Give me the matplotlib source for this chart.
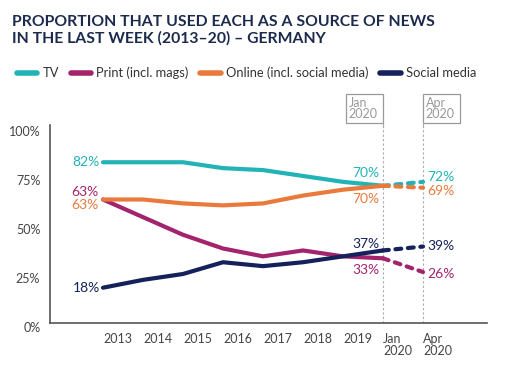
import matplotlib
matplotlib.use("Agg")
from matplotlib import pyplot as plt
from matplotlib.patches import Rectangle
from matplotlib.transforms import ScaledTranslation

plt.rcParams['font.family'] = ['Lato', 'DejaVu Sans']

# Data
periods = ["2013", "2014", "2015", "2016", "2017", "2018", "2019", "Jan\n2020", "Apr\n2020"]
tv = [82, 82, 82, 79, 78, 75, 72, 70, 72]
print_ = [63, 54, 45, 38, 34, 37, 34, 33, 26]
online = [63, 63, 61, 60, 61, 65, 68, 70, 69]
social = [18, 22, 25, 31, 29, 31, 34, 37, 39]

series_names = ["TV", "Print (incl. mags)", "Online (incl. social media)", "Social media"]
colors = ["#21b3b6", "#a3246c", "#e97a3c", "#14215a"]
series = [tv, print_, online, social]

fig = plt.figure(figsize=(5.07, 3.66), dpi=100)
W, H = 507, 366

def fx(px):
    return px / W

def fy(py):
    return 1 - py / H

# axes: left=50px, right=487px, top=125px, bottom=323px
ax = fig.add_axes([fx(50), fy(323), fx(487 - 50), (323 - 125) / H])
ax.set_xlim(-1.325, 9.6)
ax.set_ylim(0, 101)

x = list(range(len(periods)))
solid_n = 8  # up to Jan 2020
for vals, c in zip(series, colors):
    ax.plot(x[:solid_n], vals[:solid_n], color=c, lw=3, solid_capstyle='round',
            solid_joinstyle='round', zorder=3)
    ax.plot(x[solid_n - 1:], vals[solid_n - 1:], color=c, lw=3, ls=(0, (1.4, 1.6)),
            dash_capstyle='round', zorder=3)

# spines
for s in ['top', 'right']:
    ax.spines[s].set_visible(False)
ax.spines['left'].set_color('#555555')
ax.spines['bottom'].set_color('#555555')
ax.spines['left'].set_linewidth(1.2)
ax.spines['bottom'].set_linewidth(1.2)

ax.set_yticks([0, 25, 50, 75, 100])
ax.set_yticklabels(["0%", "25%", "50%", "75%", "100%"])
ax.tick_params(axis='y', length=0, pad=7, labelsize=9, labelcolor='#444444')
shift = ScaledTranslation(0, -3 / 72, fig.dpi_scale_trans)
for lab in ax.get_yticklabels():
    lab.set_transform(lab.get_transform() + shift)
ax.set_xticks(x)
ax.set_xticklabels(periods, ha='left', linespacing=1.0)
ax.tick_params(axis='x', length=0, pad=7, labelsize=9, labelcolor='#444444')

# vertical reference lines and boxes
for xi in [7, 8]:
    ax.axvline(xi, ymin=0, ymax=1.0, color='#aaaaaa', lw=0.8, ls=(0, (2, 2)), zorder=1)
box_w = 37 / 40
for xi, lbl, left in [(7, "Jan\n2020", 7 - box_w), (8, "Apr\n2020", 8)]:
    ax.plot([xi, xi], [100, 102], color='#aaaaaa', lw=0.8, clip_on=False)
    r = Rectangle((left, 102), box_w, 15, transform=ax.transData, fill=False,
                  edgecolor='#999999', lw=0.9, clip_on=False)
    ax.add_patch(r)
    ax.text(left + 0.07, 109.5, lbl, ha='left', va='center', fontsize=9,
            color='#999999', linespacing=0.9, clip_on=False)

# data labels
lab_fs = 10
ax.text(-0.08, 82, "82%", color=colors[0], ha='right', va='center', fontsize=lab_fs)
ax.text(-0.12, 67, "63%", color=colors[1], ha='right', va='center', fontsize=lab_fs)
ax.text(-0.12, 60, "63%", color=colors[2], ha='right', va='center', fontsize=lab_fs)
ax.text(-0.08, 18, "18%", color=colors[3], ha='right', va='center', fontsize=lab_fs)

ax.text(6.9, 76.5, "70%", color=colors[0], ha='right', va='center', fontsize=lab_fs)
ax.text(6.9, 63, "70%", color=colors[2], ha='right', va='center', fontsize=lab_fs)
ax.text(6.9, 40.5, "37%", color=colors[3], ha='right', va='center', fontsize=lab_fs)
ax.text(6.9, 27, "33%", color=colors[1], ha='right', va='center', fontsize=lab_fs)

ax.text(8.1, 74.5, "72%", color=colors[0], ha='left', va='center', fontsize=lab_fs)
ax.text(8.1, 67.5, "69%", color=colors[2], ha='left', va='center', fontsize=lab_fs)
ax.text(8.1, 39.5, "39%", color=colors[3], ha='left', va='center', fontsize=lab_fs)
ax.text(8.1, 25, "26%", color=colors[1], ha='left', va='center', fontsize=lab_fs)

# title
fig.text(fx(12), fy(30), "PROPORTION THAT USED EACH AS A SOURCE OF NEWS\nIN THE LAST WEEK (2013\u201320) \u2013 GERMANY",
         ha='left', va='center', fontsize=11.3, fontweight='bold', color='#1c2a4d',
         linespacing=1.15)

# legend
handles = [plt.Line2D([], [], color=c, lw=4, solid_capstyle='round') for c in colors]
fig.legend(handles, series_names, loc='center left', bbox_to_anchor=(fx(5), fy(73)),
           ncol=4, frameon=False, fontsize=9.3, handlelength=1.6, handletextpad=0.4,
           columnspacing=0.9, labelcolor='#333333')

fig.savefig("out.png", dpi=100)
